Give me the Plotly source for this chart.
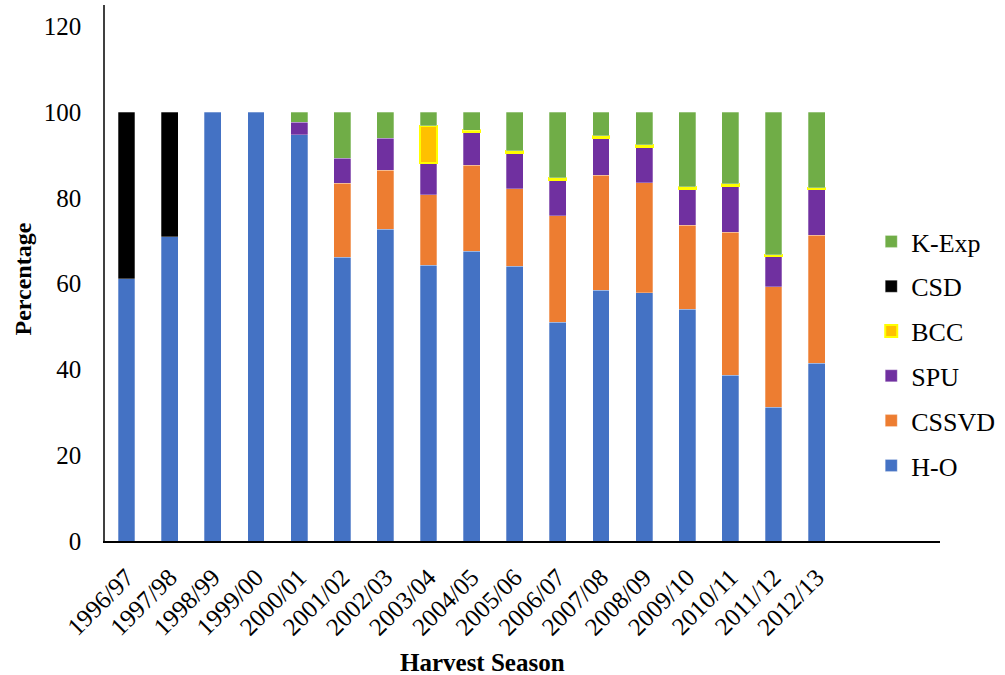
import plotly.graph_objects as go

seasons = ["1996/97", "1997/98", "1998/99", "1999/00", "2000/01", "2001/02",
           "2002/03", "2003/04", "2004/05", "2005/06", "2006/07", "2007/08",
           "2008/09", "2009/10", "2010/11", "2011/12", "2012/13"]

h_o = [61.2, 71.0, 100, 100, 94.7, 66.2, 72.7, 64.3, 67.6, 64.1, 51.0,
       58.5, 57.9, 54.1, 38.6, 31.2, 41.4]
cssvd = [None, None, None, None, None, 17.2, 13.8, 16.5, 20.0, 18.1, 24.8,
         26.8, 25.6, 19.5, 33.4, 28.1, 29.9]
spu = [None, None, None, None, 2.9, 5.9, 7.4, 7.3, 7.8, 8.4, 8.5,
       8.8, 8.5, 8.6, 10.9, 7.1, 10.7]
bcc = [None, None, None, None, None, None, None, 8.7, 0.4, 0.4, 0.4,
       0.4, 0.4, 0.4, 0.4, 0.4, 0.4]
csd = [38.8, 29.0, None, None, None, None, None, None, None, None, None,
       None, None, None, None, None, None]
k_exp = [None, None, None, None, 2.4, 10.7, 6.1, 3.2, 4.2, 9.0, 15.3,
         5.5, 7.6, 17.4, 16.7, 33.2, 17.6]

y_ticks = [0, 20, 40, 60, 80, 100, 120]

soft_edge = "rgba(255,255,255,0.35)"
# (name, values, fill, outline, outline width, legend rank)
series = [
    ("H-O", h_o, "#4472C4", soft_edge, 0.8, 6),
    ("CSSVD", cssvd, "#ED7D31", soft_edge, 0.8, 5),
    ("SPU", spu, "#7030A0", soft_edge, 0.8, 4),
    ("BCC", bcc, "#FFC000", "#FFFF00", 2, 3),
    ("CSD", csd, "#000000", soft_edge, 0.8, 2),
    ("K-Exp", k_exp, "#70AD47", soft_edge, 0.8, 1),
]

fig = go.Figure()
for name, vals, color, edge, lw, rank in series:
    fig.add_trace(go.Bar(
        x=seasons, y=vals, name=name, legendgroup=name, legendrank=rank,
        width=0.39,
        marker=dict(color=color, line=dict(color=edge, width=lw)),
    ))

serif = "Liberation Serif, Times New Roman, serif"
plot_h = 675 - 5 - 134

fig.update_layout(
    barmode="stack",
    width=1005, height=675,
    margin=dict(l=105, r=50, t=5, b=134),
    plot_bgcolor="white", paper_bgcolor="white",
    font=dict(family=serif, color="black", size=25),
    showlegend=True,
    legend=dict(
        traceorder="grouped", tracegroupgap=8,
        x=(885 - 105) / 850, xanchor="left",
        y=(541 - 218) / plot_h, yanchor="top",
        font=dict(size=26, family=serif),
        bgcolor="rgba(0,0,0,0)",
    ),
    xaxis=dict(
        range=[-0.5, 18.86],
        tickangle=-45, tickfont=dict(size=25),
        ticklabelstandoff=10,
        showline=True, linecolor="black", linewidth=1.5,
        ticks="", showgrid=False, zeroline=False,
    ),
    yaxis=dict(
        range=[0, 125], tickvals=y_ticks,
        tickfont=dict(size=25),
        showline=True, linecolor="#404040", linewidth=1.5,
        ticks="", ticklabelstandoff=17,
        showgrid=False, zeroline=False,
    ),
    annotations=[
        dict(text="<b>Harvest Season</b>", xref="paper", yref="paper",
             x=(489 - 105) / 850, y=-(647 - 541) / plot_h,
             xanchor="center", yanchor="top",
             showarrow=False, font=dict(size=25, family=serif)),
        dict(text="<b>Percentage</b>", xref="paper", yref="paper",
             x=(22 - 105) / 850, y=(541 - 279) / plot_h,
             xanchor="center", yanchor="middle",
             textangle=-90, showarrow=False, font=dict(size=24, family=serif)),
    ],
)

fig.write_html("out.html")
